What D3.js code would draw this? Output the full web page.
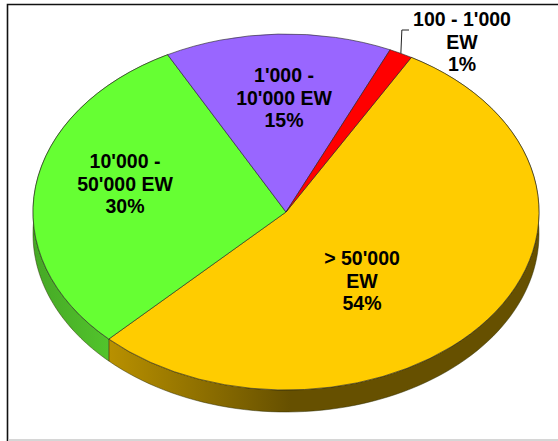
<!DOCTYPE html>
<html>
<head>
<meta charset="utf-8">
<script src="https://cdn.jsdelivr.net/npm/d3@7"></script>
<style>
  html, body { margin: 0; padding: 0; background: #fff; }
  svg { display: block; }
  text { font-family: "Liberation Sans", Arial, sans-serif; font-weight: 700; font-size: 19.5px; fill: #000; text-anchor: middle; }
</style>
</head>
<body>
<div id="chart"></div>
<script>
// Data, clockwise from the yellow slice
const categories = ["> 50'000 EW", "10'000 - 50'000 EW", "1'000 - 10'000 EW", "100 - 1'000 EW"];
const shares = [54.1, 29.9, 14.5, 1.5];
const labelLines = [
  ["> 50'000", "EW", "54%"],
  ["10'000 -", "50'000 EW", "30%"],
  ["1'000 -", "10'000 EW", "15%"],
  ["100 - 1'000", "EW", "1%"]
];
const topColors = ["#ffcc00", "#66ff33", "#9966ff", "#ff0000"];

// Layout
const width = 558, height = 441;
const cx = 286, cy = 212, rx = 253, ry = 178, depth = 22;
const startAngle = 29.7 * Math.PI / 180;
const labelAnchors = [[362, 265], [125, 168], [284, 82], [462, 26]];
const lineHeight = 22.7;

const svg = d3.select("#chart").append("svg")
  .attr("width", width)
  .attr("height", height);

// Chart frame
svg.append("path")
  .attr("d", "M7.5,441V4.5H558")
  .attr("fill", "none")
  .attr("stroke", "#111")
  .attr("stroke-width", 1.6);
svg.append("line")
  .attr("x1", 8).attr("x2", 558)
  .attr("y1", 440).attr("y2", 440)
  .attr("stroke", "#c8c8c8")
  .attr("stroke-width", 1.5);

// Side wall shading runs left to right
const defs = svg.append("defs");
const wallGradient = (id, stops) => {
  const g = defs.append("linearGradient")
    .attr("id", id)
    .attr("gradientUnits", "userSpaceOnUse")
    .attr("x1", stops[0][0]).attr("x2", stops[stops.length - 1][0])
    .attr("y1", 0).attr("y2", 0);
  stops.forEach(s => {
    g.append("stop")
      .attr("offset", (s[0] - stops[0][0]) / (stops[stops.length - 1][0] - stops[0][0]))
      .attr("stop-color", s[1]);
  });
};
wallGradient("wall0", [[110, "#b89000"], [290, "#665000"], [539, "#665000"]]);
wallGradient("wall1", [[33, "#46a826"], [110, "#52c42c"]]);

const pie = d3.pie()
  .value(d => d)
  .sort(null)
  .startAngle(startAngle)
  .endAngle(startAngle + 2 * Math.PI);
const slices = pie(shares);

const pointX = a => cx + rx * Math.sin(a);
const pointY = a => cy - ry * Math.cos(a);

const wall = d3.area()
  .x(pointX)
  .y0(pointY)
  .y1(a => pointY(a) + depth);

// Side walls, only the two front slices ever show
svg.append("g")
  .selectAll("path")
  .data(slices.slice(0, 2))
  .join("path")
  .attr("d", d => wall(d3.range(0, 101).map(i => d.startAngle + (d.endAngle - d.startAngle) * i / 100)))
  .attr("fill", (d, i) => `url(#wall${i})`)
  .attr("stroke", "#2a2a00")
  .attr("stroke-opacity", 0.6)
  .attr("stroke-width", 0.8);

// Top of the pie: a circular arc squashed into the ellipse
const arc = d3.arc().innerRadius(0).outerRadius(rx);
svg.append("g")
  .attr("transform", `translate(${cx},${cy}) scale(1,${ry / rx})`)
  .selectAll("path")
  .data(slices)
  .join("path")
  .attr("d", arc)
  .attr("fill", (d, i) => topColors[i])
  .attr("stroke", "#222")
  .attr("stroke-opacity", 0.75)
  .attr("stroke-width", 0.8)
  .attr("vector-effect", "non-scaling-stroke")
  .attr("aria-label", (d, i) => `${categories[i]}: ${labelLines[i][2]}`);

// Leader line for the thin red slice
const red = slices[3];
const redMid = (red.startAngle + red.endAngle) / 2;
svg.append("path")
  .attr("d", d3.line()([[pointX(redMid), pointY(redMid)], [pointX(redMid) + 1, 30], [409, 30]]))
  .attr("fill", "none")
  .attr("stroke", "#222")
  .attr("stroke-width", 1);

// Labels
svg.append("g")
  .selectAll("text")
  .data(labelLines)
  .join("text")
  .attr("transform", (d, i) => `translate(${labelAnchors[i][0]},${labelAnchors[i][1]})`)
  .selectAll("tspan")
  .data(d => d)
  .join("tspan")
  .attr("x", 0)
  .attr("y", (d, i) => i * lineHeight)
  .text(d => d);
</script>
</body>
</html>
